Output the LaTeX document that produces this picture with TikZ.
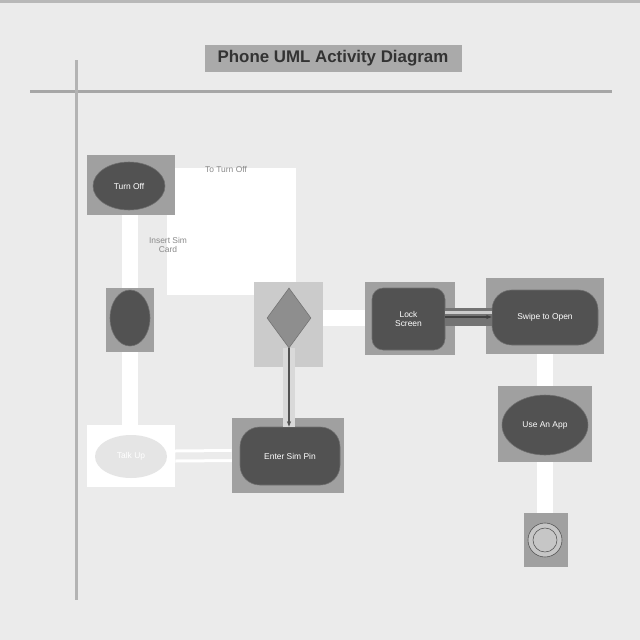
\documentclass[tikz,border=0pt]{standalone}
\usepackage{fontspec}
\setmainfont{Liberation Sans}
\usetikzlibrary{shapes.geometric, arrows.meta, positioning, calc}
\definecolor{pagebg}{HTML}{EBEBEB}
\definecolor{rulegray}{HTML}{A6A6A6}
\definecolor{hlgray}{HTML}{A0A0A0}
\definecolor{nodedark}{HTML}{525252}
\definecolor{diamondgray}{HTML}{8E8E8E}
\definecolor{diamondhl}{HTML}{CBCBCB}
\definecolor{labelgray}{HTML}{8A8A8A}

\begin{document}
\begin{tikzpicture}[x=0.025cm, y=-0.025cm,
  hl/.style={rectangle, fill=hlgray, inner sep=0pt},
  act/.style={ellipse, draw=hlgray!70!black, fill=nodedark, text=white, inner sep=0pt, font=\fontsize{6}{7}\selectfont, align=center},
  stadium/.style={rectangle, rounded corners=14pt, draw=hlgray!70!black, fill=nodedark, text=white, inner sep=0pt, font=\fontsize{6}{7}\selectfont, align=center},
  band/.style={draw=white, line width=16*0.025cm},
  flowlabel/.style={text=labelgray, font=\fontsize{6}{7}\selectfont, align=center}
]
  % Page
  \useasboundingbox (0,0) rectangle (640,640);
  \fill[pagebg] (0,0) rectangle (640,640);
  \fill[rulegray!80] (0,0) rectangle (640,3);
  \draw[rulegray, line width=3*0.025cm] (30,91) -- (612,91);
  \draw[rulegray!85, line width=3*0.025cm] (76,60) -- (76,600);

  % Title
  \node[fill=hlgray!90!white, minimum width=257*0.025cm, minimum height=27*0.025cm, inner sep=0pt, font=\fontsize{12}{14}\selectfont\bfseries, text=black!80] (title) at (333,58) {Phone UML Activity Diagram};

  % Note area
  \node[fill=white, minimum width=129*0.025cm, minimum height=127*0.025cm, inner sep=0pt] (notebox) at (231.5,231.5) {};

  % Highlight boxes
  \node[hl, minimum width=88*0.025cm, minimum height=60*0.025cm] (turnoffbg) at (131,185) {};
  \node[hl, minimum width=48*0.025cm, minimum height=64*0.025cm] (startbg) at (130,320) {};
  \node[hl, fill=diamondhl, minimum width=69*0.025cm, minimum height=85*0.025cm] (choicebg) at (288.5,324.5) {};
  \node[hl, minimum width=90*0.025cm, minimum height=73*0.025cm] (lockbg) at (410,318.5) {};
  \node[hl, minimum width=118*0.025cm, minimum height=76*0.025cm] (swipebg) at (545,316) {};
  \node[hl, minimum width=94*0.025cm, minimum height=76*0.025cm] (appbg) at (545,424) {};
  \node[hl, minimum width=44*0.025cm, minimum height=54*0.025cm] (endbg) at (546,540) {};
  \node[hl, minimum width=112*0.025cm, minimum height=75*0.025cm] (simpinbg) at (288,455.5) {};
  \node[hl, fill=white, minimum width=88*0.025cm, minimum height=62*0.025cm] (talkbg) at (131,456) {};

  % Activities
  \node[act, minimum width=72*0.025cm, minimum height=48*0.025cm] (turnoff) at (129,186) {Turn Off};
  \node[act, minimum width=40*0.025cm, minimum height=56*0.025cm] (start) at (130,318) {};
  \node[diamond, draw=diamondgray!80!black, fill=diamondgray, minimum width=44*0.025cm, minimum height=60*0.025cm, inner sep=0pt] (choice) at (289,318) {};
  \node[stadium, rounded corners=8pt, minimum width=73*0.025cm, minimum height=62*0.025cm] (lock) at (408.5,319) {Lock\\Screen};
  \node[stadium, minimum width=106*0.025cm, minimum height=55*0.025cm] (swipe) at (545,317.5) {Swipe to Open};
  \node[act, minimum width=86*0.025cm, minimum height=60*0.025cm] (app) at (545,425) {Use An App};
  \node[circle, draw=nodedark, fill=hlgray!60!white, minimum size=34*0.025cm, inner sep=0pt] (finish) at (545,540) {};
  \node[circle, draw=nodedark, fill=hlgray!60!white, minimum size=24*0.025cm, inner sep=0pt] (finishin) at (545,540) {};
  \node[stadium, minimum width=100*0.025cm, minimum height=58*0.025cm] (simpin) at (290,456) {Enter Sim Pin};
  \node[act, draw=none, fill=black!10, minimum width=72*0.025cm, minimum height=43*0.025cm] (talk) at (131,456.5) {Talk Up};

  % Labels
  \node[flowlabel] (offlabel) at (226,169) {To Turn Off};
  \node[flowlabel] (simlabel) at (168,245) {Insert Sim\\Card};

  % Flows
  \draw[band] (turnoffbg.south -| start) -- (startbg.north);
  \draw[band] (startbg.south) -- (talkbg.north -| start);
  \draw[band] (choicebg.east |- choice) -- (lockbg.west |- choice);
  \draw[band] (swipebg.south) -- (appbg.north);
  \draw[band] (appbg.south) -- (endbg.north -| app);
  \draw[draw=white, line width=3*0.025cm, double=pagebg, double distance=7*0.025cm] (talkbg.east) -- (simpinbg.west);
  \draw[black!15, line width=12*0.025cm] (choice.south) -- (simpin.north -| choice);
  \draw[nodedark, line width=1.2*0.025cm, -{Stealth[length=4pt]}] (choice.south) -- (simpin.north -| choice);
  \draw[black!55, line width=18*0.025cm] (lock.east |- 0,317) -- (swipe.west |- 0,317);
  \draw[black!20, line width=3*0.025cm] ($(lock.east |- 0,317)+(0,-5)$) -- ($(swipe.west |- 0,317)+(0,-5)$);
  \draw[black!75, line width=2*0.025cm, -{Stealth[length=4pt]}] (lock.east |- 0,317) -- (swipe.west |- 0,317);
\end{tikzpicture}
\end{document}
